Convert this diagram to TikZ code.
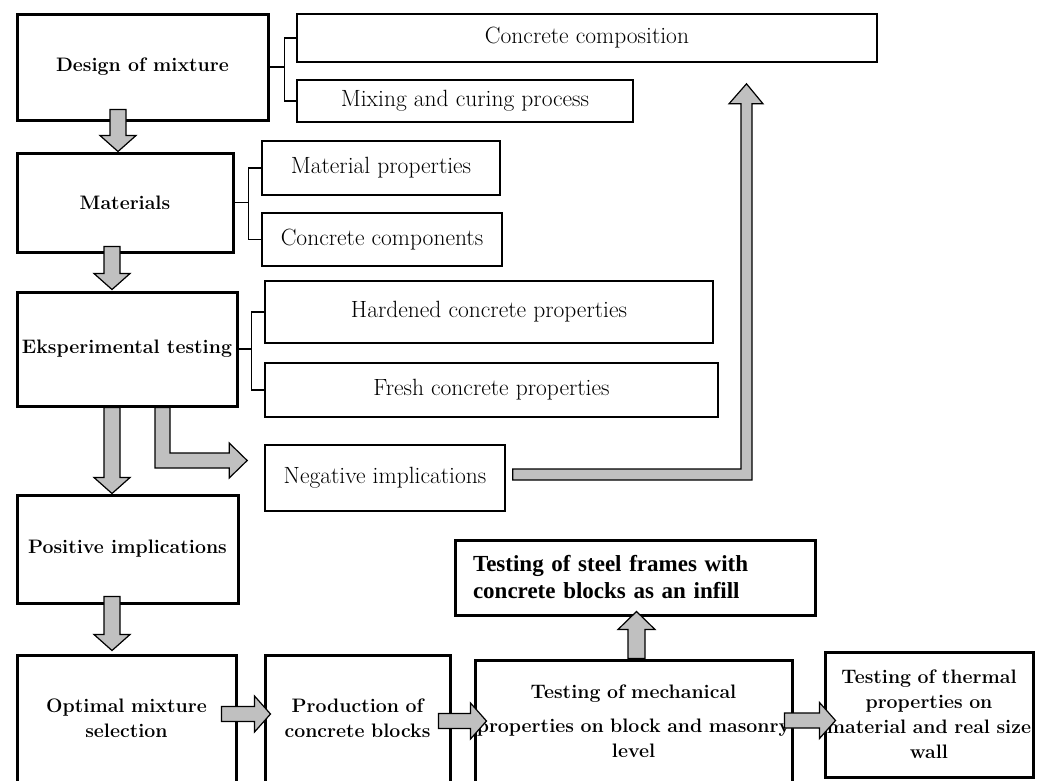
\documentclass[tikz,border=0pt]{standalone}
\usepackage{fontspec}
\newfontfamily\timesfont{Liberation Serif}
\usetikzlibrary{calc}
\definecolor{arrowgray}{RGB}{192,192,192}

\newcommand{\downblock}[3]{%
  \draw[blockarrow] ($(#2 |- #1)+(-8,-#3)$) -- ($(#2)+(-8,-16)$) -- ++(-10,0) -- (#2)
    -- ++(18,-16) -- ++(-10,0) -- ($(#2 |- #1)+(8,-#3)$) -- cycle;}
\newcommand{\rightblock}[3]{%
  \draw[blockarrow] ($(#1 |- #2)+(-#3,-7.5)$) -- ($(#2)+(-16,-7.5)$) -- ++(0,-10.5) -- (#2)
    -- ++(-16,18) -- ++(0,-10.5) -- ($(#1 |- #2)+(-#3,7.5)$) -- cycle;}

\begin{document}
\begin{tikzpicture}[x=1pt,y=-1pt,
    thickbox/.style={draw, line width=3pt, align=center, inner sep=0pt,
      font=\fontsize{19.5}{25}\selectfont\bfseries},
    thinbox/.style={draw, line width=1.6pt, align=center, inner sep=0pt,
      font=\fontsize{23.5}{28}\selectfont},
    bracket/.style={draw, line width=1.5pt},
    blockarrow/.style={fill=arrowgray, draw=black, line width=1.2pt, line join=miter}]
  \useasboundingbox (0,0) rectangle (1045,780);

  \node[thickbox, minimum width=251pt, minimum height=106pt] (design) at (142.5,67) {Design of mixture};
  \node[thinbox, minimum width=580pt, minimum height=48pt] (composition) at (587,38) {Concrete composition};
  \node[thinbox, minimum width=336pt, minimum height=42pt] (mixing) at (465,101) {Mixing and curing process};

  \node[thickbox, minimum width=216pt, minimum height=99pt] (materials) at (125,202.5) {Materials};
  \node[thinbox, minimum width=238pt, minimum height=54pt] (matprop) at (381,168) {Material properties};
  \node[thinbox, minimum width=240pt, minimum height=53pt] (components) at (382,239.5) {Concrete components};

  \node[thickbox, minimum width=220pt, minimum height=114pt] (exp) at (127,349) {Eksperimental testing};
  \node[thinbox, minimum width=448pt, minimum height=62pt] (hardened) at (489,312) {Hardened concrete properties};
  \node[thinbox, minimum width=453pt, minimum height=54pt] (fresh) at (491.5,390) {Fresh concrete properties};
  \node[thinbox, minimum width=240pt, minimum height=66pt] (negative) at (385,478) {Negative implications};

  \node[thickbox, minimum width=221pt, minimum height=108pt] (positive) at (127.5,549) {Positive implications};
  \node[thickbox, minimum width=360pt, minimum height=75pt, text width=324pt, align=left, inner xsep=18pt,
    font=\fontsize{23}{27}\selectfont\timesfont\bfseries] (steel) at (635,577.5)
    {Testing of steel frames with\\concrete blocks as an infill};

  \node[thickbox, minimum width=219pt, minimum height=127pt, text width=219pt] (optimal) at (126.5,718.5) {Optimal mixture\\selection};
  \node[thickbox, minimum width=185pt, minimum height=127pt, text width=185pt] (production) at (357.5,718.5) {Production of\\concrete blocks};
  \node[thickbox, minimum width=317pt, minimum height=122pt, text width=317pt] (mechanical) at (633.5,721)
    {Testing of mechanical\\[9pt]properties on block and masonry\\level};
  \node[thickbox, minimum width=208pt, minimum height=125pt, text width=208pt] (thermal) at (929,714.5)
    {Testing of thermal\\properties on\\material and real size\\wall};

  \draw[bracket] (design.east) -- ++(15,0);
  \draw[bracket] (composition.west) -| ($(design.east)+(15,0)$) |- (mixing.west);
  \draw[bracket] (materials.east) -- ++(14,0);
  \draw[bracket] (matprop.west) -| ($(materials.east)+(14,0)$) |- (components.west);
  \draw[bracket] (exp.east) -- ++(13,0);
  \draw[bracket] (hardened.west) -| ($(exp.east)+(13,0)$) |- (fresh.west);

  \coordinate (t1) at ($(materials.north)+(-7,0)$);
  \coordinate (t2) at ($(exp.north)+(-15,-1)$);
  \coordinate (t3) at ($(positive.north)+(-15.5,0)$);
  \coordinate (t4) at ($(optimal.north)+(-14.5,-3)$);
  \coordinate (t5) at ($(negative.west)+(-17,-17.5)$);
  \coordinate (t6) at ($(composition.south)+(159.5,21)$);
  \coordinate (t7) at ($(production.west)+(7,-4.5)$);
  \coordinate (t8) at ($(mechanical.west)+(13,0)$);
  \coordinate (t9) at ($(thermal.west)+(12,6)$);
  \coordinate (t10) at ($(steel.south)+(1.5,-5)$);

  \downblock{design.south}{t1}{12}
  \downblock{materials.south}{t2}{7}
  \downblock{exp.south}{t3}{0}
  \downblock{positive.south}{t4}{8}
  \rightblock{optimal.east}{t7}{16}
  \rightblock{production.east}{t8}{13}
  \rightblock{mechanical.east}{t9}{9}

  \draw[blockarrow] ($(exp.south)+(28,0)$) -- ++(15,0) |- ($(t5)+(-18,-7.5)$) -- ++(0,-10) -- (t5)
    -- ++(-18,17.5) -- ++(0,-10) -| ($(exp.south)+(28,0)$) -- cycle;
  \draw[blockarrow] ($(negative.east)+(7,-9)$) -| ($(t6)+(-5.5,20)$) -- ++(-12,0) -- (t6)
    -- ++(16.5,20) -- ++(-11,0) |- ($(negative.east)+(7,2)$) -- cycle;
  \draw[blockarrow] ($(t10 |- mechanical.north)+(-8.5,0)$) -- ($(t10)+(-8.5,18)$) -- ++(-10,0) -- (t10)
    -- ++(18.5,18) -- ++(-10,0) -- ($(t10 |- mechanical.north)+(8.5,0)$) -- cycle;
\end{tikzpicture}
\end{document}
